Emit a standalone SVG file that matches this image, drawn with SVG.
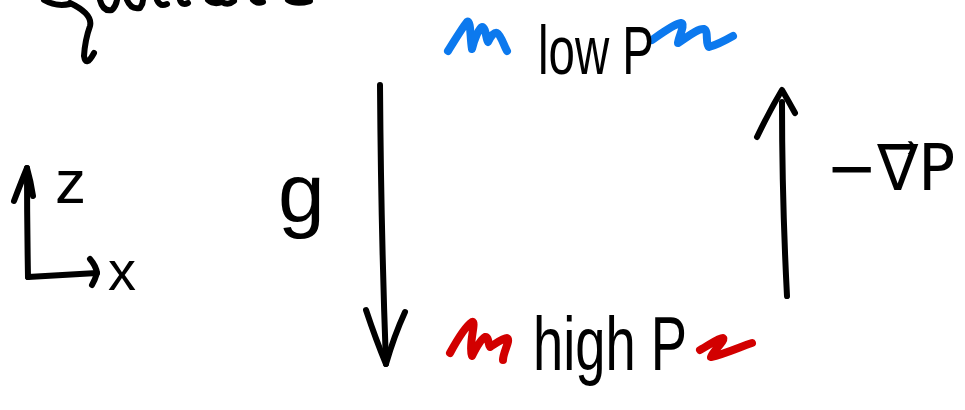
<svg xmlns="http://www.w3.org/2000/svg" width="965" height="410" viewBox="0 0 965 410">
<style>
.ink{fill:none;stroke:#000;stroke-width:6;stroke-linecap:round;stroke-linejoin:round}
.blue{fill:none;stroke:#0c79ee;stroke-width:8;stroke-linecap:round;stroke-linejoin:round}
.red{fill:none;stroke:#d20000;stroke-width:8;stroke-linecap:round;stroke-linejoin:round}
.hand{font-family:"Liberation Sans","DejaVu Sans",sans-serif;fill:#000}
.math{font-family:"DejaVu Sans","Liberation Sans",sans-serif;fill:#000}
</style>
<rect width="965" height="410" fill="#fff"/>
<g id="title-fragment">
<path class="ink" d="M44,0 Q56,7 70,4"/>
<path class="ink" d="M70,3 Q93,14 90,26 Q85,40 84,56 Q86,68 94,53"/>
<path class="ink" d="M100,0 Q103,12 112,10 Q116,6 117,0"/>
<path class="ink" d="M127,0 Q131,10 140,8 Q143,4 143,0"/>
<path class="ink" d="M157,0 Q160,7 167,4"/>
<path class="ink" d="M180,0 Q182,6 188,3"/>
<path class="ink" d="M208,0 Q214,5 222,2 Q228,6 234,1"/>
<path class="ink" d="M253,0 Q257,4 263,2"/>
<path class="ink" d="M288,0 Q296,5 310,1"/>
</g>
<g id="axes">
<path class="ink" d="M28,277 Q27,220 27,168"/>
<path class="ink" d="M14,201 Q22,180 27,168 Q31,182 33,196"/>
<path class="ink" d="M28,277 Q60,275 97,273"/>
<path class="ink" d="M90,259 Q96,266 97,273 Q95,280 92,285"/>
<text class="hand" x="55" y="203" font-size="62">z</text>
<text class="hand" x="108" y="290" font-size="56">x</text>
</g>
<g id="low-p">
<path class="blue" d="M448,51 C455,40 462,28 467,22 C471,19 470,38 472,49 C474,40 479,28 482,27 C486,27 486,40 488,42 C491,36 494,32 497,33 C501,35 504,46 507,51"/>
<path class="blue" d="M652,40 C662,33 674,24 681,23 C686,24 678,38 678,43 C686,38 698,28 704,29 C709,31 705,44 709,47 C716,45 726,40 733,36"/>
<text class="hand" x="538" y="74" font-size="68" textLength="116" lengthAdjust="spacingAndGlyphs">low P</text>
</g>
<g id="high-p">
<path class="red" d="M450,353 C456,342 466,326 472,322 C477,320 468,345 472,356 C475,350 481,339 485,337 C489,336 488,345 490,347 C495,344 503,338 507,338 C511,340 503,352 503,360"/>
<path class="red" d="M700,350 C708,346 718,338 723,338 C726,340 712,352 711,357 C725,354 742,346 752,343"/>
<text class="hand" x="533" y="370" font-size="76" textLength="154" lengthAdjust="spacingAndGlyphs">high P</text>
</g>
<g id="connectors">
<g id="gravity-arrow">
<path class="ink" d="M380,85 Q381,230 386,364"/>
<path class="ink" d="M366,310 Q376,340 386,364 Q394,336 405,312"/>
</g>
<g id="pressure-arrow">
<path class="ink" d="M787,296 Q782,200 782,102"/>
<path class="ink" d="M757,137 Q770,110 782,90 Q789,102 795,113"/>
</g>
</g>
<g id="label-g">
<text class="hand" x="278" y="222" font-size="84">g</text>
</g>
<g id="label-gradp">
<text class="math" x="826" y="190" font-size="64" textLength="129" lengthAdjust="spacingAndGlyphs">−∇⃗P</text>
</g>
</svg>
